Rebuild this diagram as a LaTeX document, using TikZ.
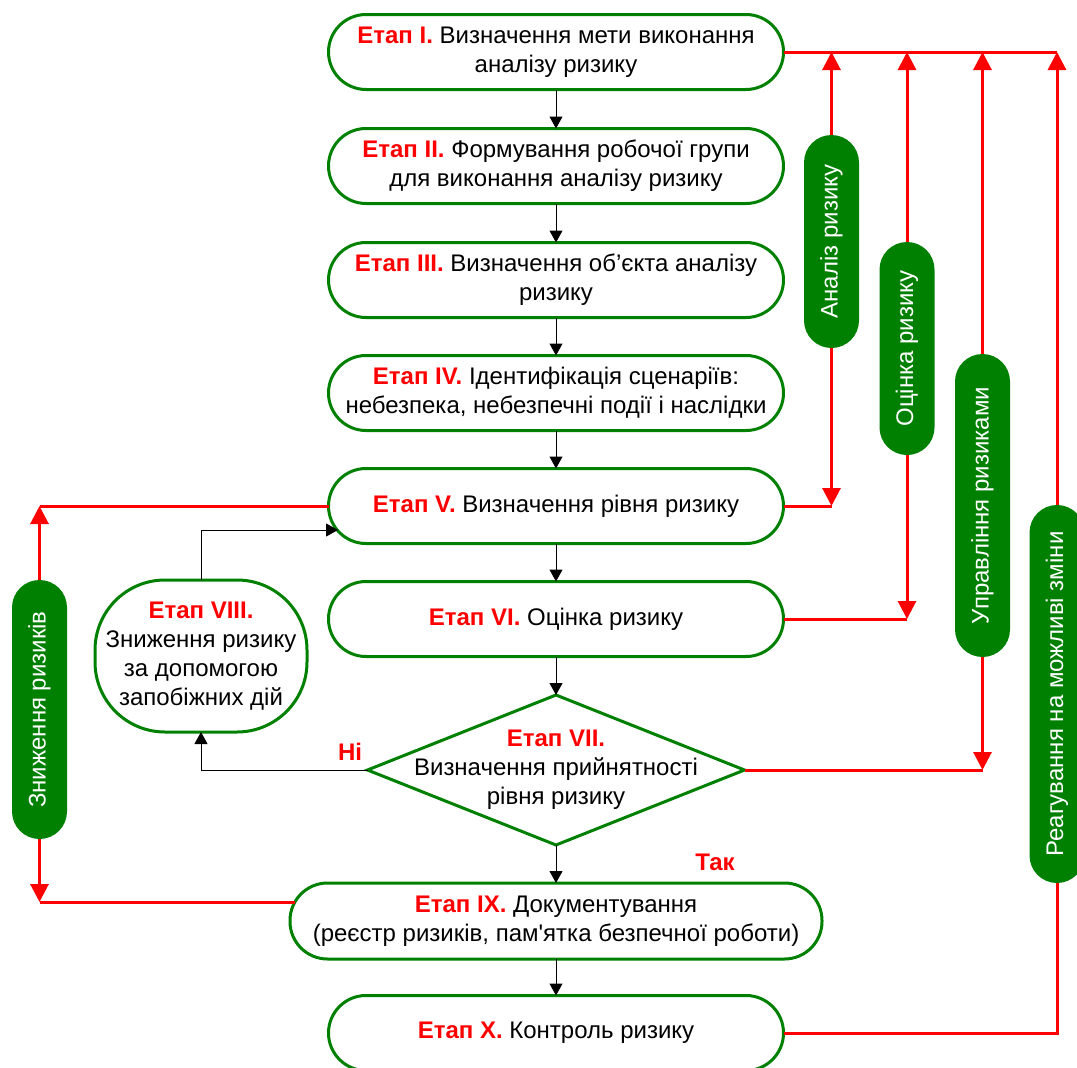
\documentclass[tikz,border=0pt]{standalone}
\usepackage{fontspec}
\setmainfont{Liberation Sans}[Ligatures=TeXOff]
\usepackage{graphicx}
\usetikzlibrary{arrows.meta,shapes.geometric}
\definecolor{sgreen}{RGB}{0,128,0}
\definecolor{sred}{RGB}{255,0,0}
\newcommand{\etap}[1]{\textcolor{sred}{\textbf{#1}}}

\begin{document}
\begin{tikzpicture}[x=1pt,y=-1pt,
  every node/.style={font=\fontsize{24}{29}\selectfont},
  stage/.style={draw=sgreen, line width=3pt, fill=white, rounded corners=37.5pt,
    minimum width=455pt, minimum height=75pt, align=center, inner sep=0pt, outer sep=0pt},
  side/.style={fill=sgreen, text=white, rounded corners=27.5pt, minimum width=55pt,
    inner sep=0pt, outer sep=0pt, font=\fontsize{24}{28}\selectfont},
  flow/.style={draw=black, line width=1pt, -{Triangle[length=12pt,width=13pt]}},
  rline/.style={draw=sred, line width=3pt},
  rarrow/.style={rline, -{Triangle[length=18pt,width=18pt]}},
  lbl/.style={text=sred, font=\fontsize{24}{29}\selectfont\bfseries}
]
\useasboundingbox (0,0) rectangle (1077,1068);

% main column of stages
\node[stage] (s1) at (556,52)  {\etap{Етап I.} Визначення мети виконання\\аналізу ризику};
\node[stage] (s2) at (556,166) {\etap{Етап II.} Формування робочої групи\\для виконання аналізу ризику};
\node[stage] (s3) at (556,280) {\etap{Етап III.} Визначення об’єкта аналізу\\ризику};
\node[stage] (s4) at (556,393) {\etap{Етап IV.} Ідентифікація сценаріїв:\\небезпека, небезпечні події і наслідки};
\node[stage] (s5) at (556,506) {\etap{Етап V.} Визначення рівня ризику};
\node[stage] (s6) at (556,619) {\etap{Етап VI.} Оцінка ризику};
\node[diamond, draw=sgreen, line width=3pt, fill=white, minimum width=377pt,
  minimum height=150pt, inner sep=0pt, outer sep=0pt] (s7) at (556,770) {};
\node[align=center] (s7t) at (556,770) {\etap{Етап VII.}\\Визначення прийнятності\\рівня ризику};
\node[stage, rounded corners=70pt, minimum width=212pt, minimum height=152pt] (s8) at (201,656)
  {\etap{Етап VIII.}\\Зниження ризику\\за допомогою\\запобіжних дій};
\node[stage, minimum width=532pt, minimum height=76pt] (s9) at (556,921)
  {\etap{Етап IX.} Документування\\(реєстр ризиків, пам'ятка безпечної роботи)};
\node[stage] (s10) at (556,1033) {\etap{Етап X.} Контроль ризику};

% green side bars
\node[side, minimum height=213pt] (pa) at (831.5,241.5) {\rotatebox{90}{Аналіз ризику}};
\node[side, minimum height=213pt] (po) at (907,348.5) {\rotatebox{90}{Оцінка ризику}};
\node[side, minimum height=303pt] (pu) at (982.5,505.5) {\rotatebox{90}{Управління ризиками}};
\node[side, minimum height=378pt] (pr) at (1057,694) {\rotatebox{90}{Реагування на можливі зміни}};
\node[side, minimum height=259pt] (pz) at (39.5,709.5) {\rotatebox{90}{Зниження ризиків}};

% branch labels
\node[lbl] (no) at (350,752) {Ні};
\node[lbl] (yes) at (715,862) {Так};

% points where connectors meet a rounded border off-centre
\coordinate (k5) at (338,530);
\coordinate (k9) at (295,902);

% black flow arrows
\draw[flow] (s1) -- (s2);
\draw[flow] (s2) -- (s3);
\draw[flow] (s3) -- (s4);
\draw[flow] (s4) -- (s5);
\draw[flow] (s5) -- (s6);
\draw[flow] (s6) -- (s7.north);
\draw[flow] (s7.south) -- (s9);
\draw[flow] (s9) -- (s10);
\draw[flow] (s7.west) -| (s8.south);
\draw[flow] (s8.north) |- (k5);

% red feedback lines on the right
\draw[rline] (s1.east) -- (pr.north |- s1.east);
\foreach \p in {pa,po,pu,pr}
  \draw[rarrow] (\p.north) -- (\p.north |- s1.east);
\draw[rline] (s5.east) -- (pa.south |- s5.east);
\draw[rarrow] (pa.south) -- (pa.south |- s5.east);
\draw[rline] (s6.east) -- (po.south |- s6.east);
\draw[rarrow] (po.south) -- (po.south |- s6.east);
\draw[rline] (s7.east) -- (pu.south |- s7.east);
\draw[rarrow] (pu.south) -- (pu.south |- s7.east);
\draw[rline] (s10.east) -| (pr.south);

% red lines on the left
\draw[rline] (s5.west) -- (pz.north |- s5.west);
\draw[rarrow] (pz.north) -- (pz.north |- s5.west);
\draw[rline] (k9) -- (pz.south |- k9);
\draw[rarrow] (pz.south) -- (pz.south |- k9);
\end{tikzpicture}
\end{document}
